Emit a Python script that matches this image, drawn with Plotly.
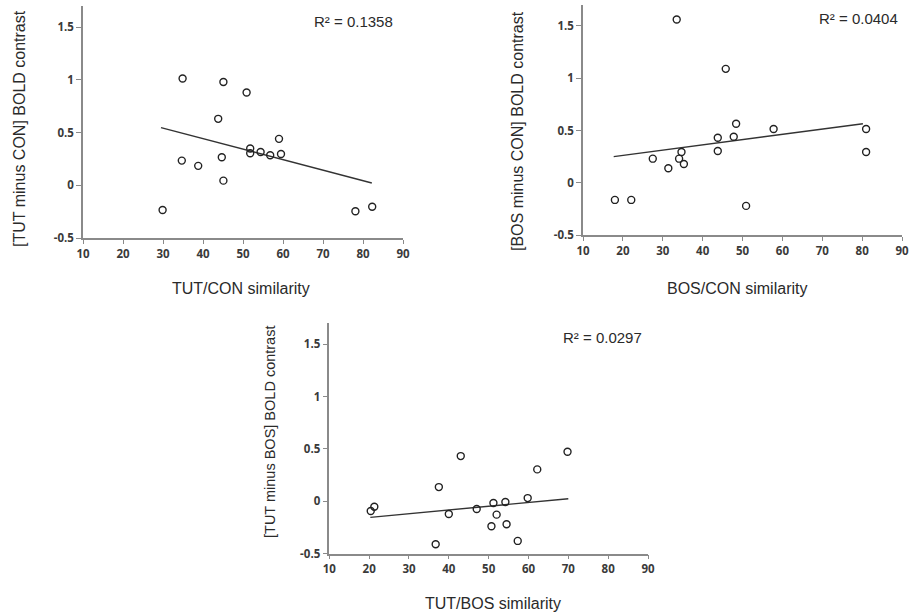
import numpy as np
import plotly.graph_objects as go

# Panel 1: TUT/CON similarity vs [TUT minus CON] BOLD contrast
tut_con_sim = [29.9, 34.9, 34.7, 38.8, 43.8, 45.1, 44.7, 45.1, 50.9, 51.8, 51.8, 54.4, 56.8, 59.0, 59.5, 78.1, 82.3]
tut_con_bold = [-0.234, 1.013, 0.234, 0.184, 0.63, 0.98, 0.266, 0.044, 0.88, 0.348, 0.304, 0.316, 0.285, 0.44, 0.297, -0.247, -0.203]
tut_con_trend_x = [29.5, 82.2]
tut_con_trend_y = [0.547, 0.022]

# Panel 2: BOS/CON similarity vs [BOS minus CON] BOLD contrast
bos_con_sim = [33.5, 45.8, 48.4, 57.8, 81.0, 81.0, 43.8, 47.8, 43.8, 34.7, 34.1, 35.3, 27.5, 31.4, 18.0, 22.1, 50.9]
bos_con_bold = [1.561, 1.09, 0.566, 0.515, 0.515, 0.296, 0.432, 0.442, 0.305, 0.296, 0.232, 0.181, 0.232, 0.14, -0.162, -0.162, -0.219]
bos_con_trend_x = [17.7, 80.2]
bos_con_trend_y = [0.251, 0.566]

# Panel 3: TUT/BOS similarity vs [TUT minus BOS] BOLD contrast
tut_bos_sim = [20.4, 21.3, 36.7, 37.5, 40.0, 43.0, 47.0, 50.7, 51.2, 52.0, 54.2, 54.5, 57.3, 59.8, 62.2, 69.8]
tut_bos_bold = [-0.092, -0.051, -0.41, 0.136, -0.121, 0.432, -0.073, -0.238, -0.016, -0.127, -0.007, -0.219, -0.378, 0.031, 0.305, 0.473]
tut_bos_trend_x = [20.3, 70.0]
tut_bos_trend_y = [-0.153, 0.025]

x_titles = ["TUT/CON similarity", "BOS/CON similarity", "TUT/BOS similarity"]
y_titles = ["[TUT minus CON] BOLD contrast", "[BOS minus CON] BOLD contrast", "[TUT minus BOS] BOLD contrast"]
r2_labels = ["R\u00b2 = 0.1358", "R\u00b2 = 0.0404", "R\u00b2 = 0.0297"]

x_tickvals = [10, 20, 30, 40, 50, 60, 70, 80, 90]
y_tickvals = [-0.5, 0, 0.5, 1, 1.5]
y_ticktext = ["-0.5", "0", "0.5", "1", "1.5"]

W, H = 912, 615
panels = [
    dict(xs=tut_con_sim, ys=tut_con_bold, tx=tut_con_trend_x, ty=tut_con_trend_y,
         px=(83, 403), py=(6, 238),
         ytitle_xy=(20, 129), ytitle_size=16, xtitle_xy=(241, 288), r2_xy=(353, 22)),
    dict(xs=bos_con_sim, ys=bos_con_bold, tx=bos_con_trend_x, ty=bos_con_trend_y,
         px=(583, 902), py=(5, 235.3),
         ytitle_xy=(517, 131), ytitle_size=16, xtitle_xy=(737, 288), r2_xy=(858, 19)),
    dict(xs=tut_bos_sim, ys=tut_bos_bold, tx=tut_bos_trend_x, ty=tut_bos_trend_y,
         px=(329.3, 648), py=(323.3, 553.7),
         ytitle_xy=(270, 432), ytitle_size=14.5, xtitle_xy=(493, 603), r2_xy=(602, 337)),
]

fig = go.Figure()
annotations = []
axis_color = "#8a8a8a"
tick_font = dict(family="Open Sans", size=11.5, color="#3a3a3a", weight=700)
label_font = dict(family="Liberation Sans", size=16, color="#2a2a2a")
r2_font = dict(family="Liberation Sans", size=15, color="#2a2a2a")

for i, p in enumerate(panels):
    n = "" if i == 0 else str(i + 1)

    fig.add_trace(go.Scatter(x=p["tx"], y=p["ty"], mode="lines",
                             line=dict(color="#333333", width=1.4),
                             xaxis="x" + n, yaxis="y" + n, showlegend=False,
                             hoverinfo="skip"))
    fig.add_trace(go.Scatter(x=p["xs"], y=p["ys"], mode="markers",
                             marker=dict(symbol="circle-open", size=7,
                                         color="#222222", line=dict(width=1.4)),
                             xaxis="x" + n, yaxis="y" + n, showlegend=False))

    x0, x1 = p["px"]
    y0, y1 = p["py"]
    fig.layout["xaxis" + n] = dict(
        domain=[x0 / W, x1 / W], range=[10, 90], anchor="y" + n, automargin=False,
        tickvals=x_tickvals, ticks="outside", ticklen=4, tickwidth=1,
        tickcolor=axis_color, showline=True, linecolor=axis_color, linewidth=1.5,
        showgrid=False, zeroline=False, tickfont=tick_font, fixedrange=True)
    fig.layout["yaxis" + n] = dict(
        domain=[1 - y1 / H, 1 - y0 / H], range=[-0.5, 1.7], anchor="x" + n,
        automargin=False,
        tickvals=y_tickvals, ticktext=y_ticktext, ticks="outside", ticklen=5,
        tickwidth=1, tickcolor=axis_color, showline=True, linecolor=axis_color,
        linewidth=1.5, showgrid=False, zeroline=False, tickfont=tick_font,
        fixedrange=True)

    ax, ay = p["ytitle_xy"]
    annotations.append(dict(text=y_titles[i], x=ax / W, y=1 - ay / H, xref="paper",
                            yref="paper", showarrow=False, textangle=-90,
                            xanchor="center", yanchor="middle",
                            font=dict(family="Liberation Sans", size=p["ytitle_size"],
                                      color="#2a2a2a")))
    ax, ay = p["xtitle_xy"]
    annotations.append(dict(text=x_titles[i], x=ax / W, y=1 - ay / H, xref="paper",
                            yref="paper", showarrow=False, xanchor="center",
                            yanchor="middle", font=label_font))
    ax, ay = p["r2_xy"]
    annotations.append(dict(text=r2_labels[i], x=ax / W, y=1 - ay / H, xref="paper",
                            yref="paper", showarrow=False, xanchor="center",
                            yanchor="middle", font=r2_font))

fig.update_layout(width=W, height=H, margin=dict(l=0, r=0, t=0, b=0, autoexpand=False),
                  paper_bgcolor="white", plot_bgcolor="white",
                  annotations=annotations, showlegend=False)

fig.write_html("out.html", config={"displayModeBar": False},
               post_script="document.body.style.margin='0';document.body.style.overflow='hidden';")
